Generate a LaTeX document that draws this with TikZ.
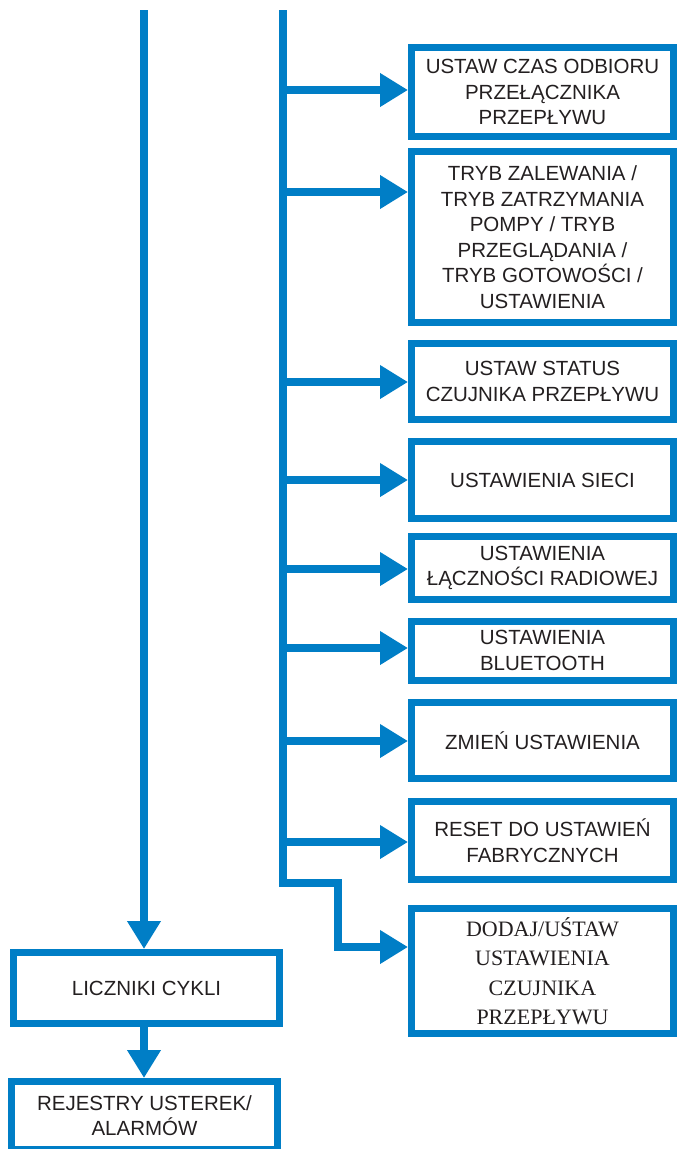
\documentclass[tikz,border=0pt]{standalone}
\usepackage{fontspec}
\setmainfont{Liberation Sans}
\newfontfamily\serifbox{Liberation Serif}
\usetikzlibrary{arrows.meta,positioning}
\definecolor{menublue}{RGB}{0,126,198}
\definecolor{menutext}{RGB}{35,31,32}

\begin{document}
\begin{tikzpicture}[x=1pt,y=-1pt,
    menu/.style={draw=menublue,line width=7pt,rectangle,inner sep=0pt,align=center,
      text=menutext,font=\fontsize{20.5}{25.5}\selectfont,minimum width=262pt},
    flow/.style={draw=menublue,line width=8pt,line join=miter},
    tip/.style={-{Triangle[length=28pt,width=32pt]}}]
    \useasboundingbox (0,0) rectangle (677,1149);

    % right column
    \node[menu,minimum height=89pt] (czas) at (542.5,92) {USTAW CZAS ODBIORU\\PRZEŁĄCZNIKA\\PRZEPŁYWU};
    \node[menu,minimum height=171pt] (tryb) at (542.5,237) {TRYB ZALEWANIA /\\TRYB ZATRZYMANIA\\POMPY / TRYB\\PRZEGLĄDANIA /\\TRYB GOTOWOŚCI /\\USTAWIENIA};
    \node[menu,minimum height=76pt] (status) at (542.5,381.5) {USTAW STATUS\\CZUJNIKA PRZEPŁYWU};
    \node[menu,minimum height=77pt] (siec) at (542.5,480) {USTAWIENIA SIECI};
    \node[menu,minimum height=63pt] (radio) at (542.5,568) {USTAWIENIA\\ŁĄCZNOŚCI RADIOWEJ};
    \node[menu,minimum height=59pt] (bt) at (542.5,650.5) {USTAWIENIA\\BLUETOOTH};
    \node[menu,minimum height=76pt] (zmien) at (542.5,740.5) {ZMIEŃ USTAWIENIA};
    \node[menu,minimum height=78pt] (reset) at (542.5,840.5) {RESET DO USTAWIEŃ\\FABRYCZNYCH};
    \node[menu,minimum height=125pt,font=\serifbox\fontsize{22}{29.5}\selectfont] (dodaj) at (542.5,971) {DODAJ/UŚTAW\\USTAWIENIA\\CZUJNIKA\\PRZEPŁYWU};

    % left column
    \node[menu,minimum width=266pt,minimum height=71pt] (cykle) at (146.5,988) {LICZNIKI CYKLI};
    \node[menu,minimum width=266pt,minimum height=68pt] (rejestry) at (144.5,1115.5) {REJESTRY USTEREK/\\ALARMÓW};

    \coordinate (ltop) at (144,10);
    \coordinate (rtop) at (283,10);
    \coordinate (bend) at (338,883);
    \coordinate (a9) at (338,947);

    \draw[flow,tip] (ltop) -- (ltop |- cykle.north);
    \draw[flow,tip] (ltop |- cykle.south) -- (ltop |- rejestry.north);

    \draw[flow,tip] (rtop) |- (bend) -- (a9) -- (a9 -| dodaj.west);
    \foreach \y/\nm in {90/czas,192/tryb,382/status,480/siec,569/radio,648/bt,741/zmien,842/reset}{
        \coordinate (t\nm) at (283,\y);
        \draw[flow,tip] (t\nm) -- (t\nm -| \nm.west);
    }
\end{tikzpicture}
\end{document}
